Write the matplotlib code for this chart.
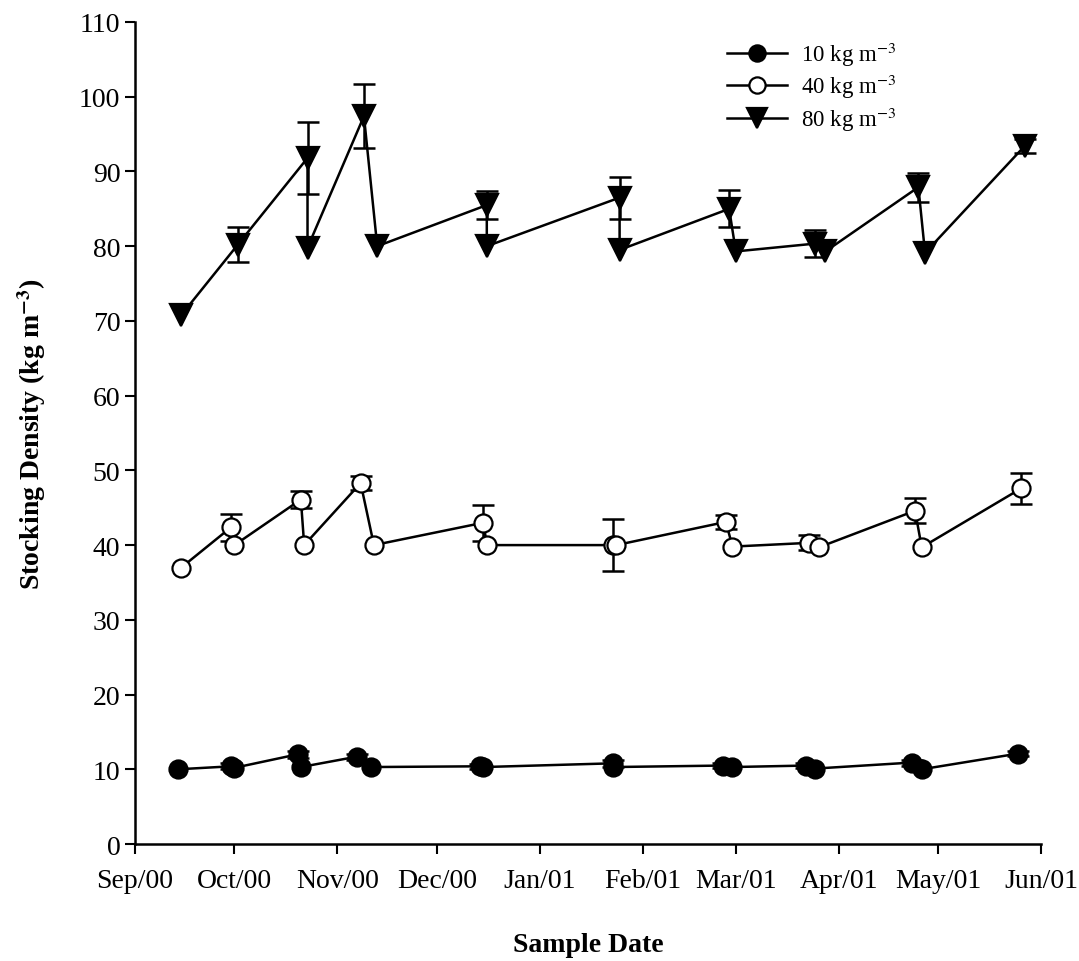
import numpy as np
import pandas as pd
import matplotlib
matplotlib.use("Agg")
import matplotlib.pyplot as plt
import matplotlib.dates as mdates

plt.rcParams['font.family'] = ['Liberation Serif', 'DejaVu Serif']
plt.rcParams['mathtext.fontset'] = 'stix'

# sample dates and densities (mean, +/- error) per target stocking density
dates_10 = ["2000-09-14", "2000-09-30", "2000-10-01", "2000-10-20", "2000-10-21",
            "2000-11-07", "2000-11-11", "2000-12-14", "2000-12-15", "2001-01-23",
            "2001-01-23", "2001-02-25", "2001-02-28", "2001-03-22", "2001-03-25",
            "2001-04-23", "2001-04-26", "2001-05-25"]
dens_10 = [10.0, 10.4, 10.2, 12.0, 10.3, 11.7, 10.3, 10.4, 10.3, 10.8,
           10.3, 10.5, 10.3, 10.5, 10.1, 10.9, 10.0, 12.1]
err_10 = [0, 0.4, 0, 0.5, 0, 0.4, 0, 0.3, 0, 0.5, 0, 0.3, 0, 0.3, 0, 0.4, 0, 0.3]

dates_40 = ["2000-09-15", "2000-09-30", "2000-10-01", "2000-10-21", "2000-10-22",
            "2000-11-08", "2000-11-12", "2000-12-15", "2000-12-16", "2001-01-23",
            "2001-01-24", "2001-02-26", "2001-02-28", "2001-03-23", "2001-03-26",
            "2001-04-24", "2001-04-26", "2001-05-26"]
dens_40 = [37.0, 42.4, 40.0, 46.1, 40.0, 48.3, 40.0, 43.0, 40.0, 40.0,
           40.0, 43.1, 39.8, 40.3, 39.7, 44.6, 39.7, 47.6]
err_40 = [0, 1.8, 0, 1.1, 0, 0.9, 0, 2.4, 0, 3.45, 0, 0.95, 0, 1.0, 0, 1.7, 0, 2.05]

dates_80 = ["2000-09-15", "2000-10-02", "2000-10-23", "2000-10-23", "2000-11-09",
            "2000-11-13", "2000-12-16", "2000-12-16", "2001-01-25", "2001-01-25",
            "2001-02-27", "2001-03-01", "2001-03-25", "2001-03-28", "2001-04-25",
            "2001-04-27", "2001-05-27"]
dens_80 = [70.8, 80.2, 91.8, 79.8, 97.4, 80.0, 85.5, 80.0, 86.5, 79.5,
           85.0, 79.3, 80.35, 79.3, 87.9, 79.1, 93.4]
err_80 = [0, 2.3, 4.8, 0, 4.3, 0, 1.85, 0, 2.8, 0, 2.5, 0, 1.75, 0, 1.95, 0, 0.9]

labels = ["10 kg m$^{-3}$", "40 kg m$^{-3}$", "80 kg m$^{-3}$"]

fig = plt.figure(figsize=(10.79, 9.62), dpi=100)
ax = fig.add_axes([0.125, 0.1216, 0.84, 0.8545])

series = [
    (dates_10, dens_10, err_10, "o", "black", 13),
    (dates_40, dens_40, err_40, "o", "white", 13),
    (dates_80, dens_80, err_80, "v", "black", 16),
]

handles = []
for (d, y, e, mk, fc, ms), lab in zip(series, labels):
    d = pd.to_datetime(d)
    y = np.array(y)
    e = np.array(e)
    m = e > 0
    ax.errorbar(d[m], y[m], yerr=e[m], fmt="none", ecolor="black",
                elinewidth=1.8, capsize=8, capthick=1.8, zorder=2)
    h, = ax.plot(d, y, color="black", lw=1.8, marker=mk, ms=ms,
                 mfc=fc, mec="black", mew=1.6, zorder=3, label=lab)
    handles.append(h)

ax.set_xlim(pd.Timestamp("2000-09-01"), pd.Timestamp("2001-06-01"))
ax.set_ylim(0, 110)
ax.set_yticks(np.arange(0, 111, 10))
ax.xaxis.set_major_locator(mdates.MonthLocator())
ax.xaxis.set_major_formatter(mdates.DateFormatter("%b/%y"))

ax.spines["top"].set_visible(False)
ax.spines["right"].set_visible(False)
ax.spines["left"].set_linewidth(1.8)
ax.spines["bottom"].set_linewidth(1.8)
ax.tick_params(axis="both", direction="out", length=7, width=1.5,
               labelsize=20, colors="black")
ax.tick_params(axis="x", pad=10)

ax.set_xlabel("Sample Date", fontsize=20, fontweight="bold", labelpad=28)
ax.set_ylabel("Stocking Density (kg m$^{\\mathbf{-3}}$)", fontsize=20,
              fontweight="bold", labelpad=22)

fig.legend(handles=handles, loc="upper left", bbox_to_anchor=(0.674, 0.958),
           frameon=False, fontsize=16.5, handlelength=2.6, labelspacing=0.2,
           borderpad=0, borderaxespad=0, handletextpad=0.6, markerscale=0.9)

fig.savefig("out.png", dpi=100)
